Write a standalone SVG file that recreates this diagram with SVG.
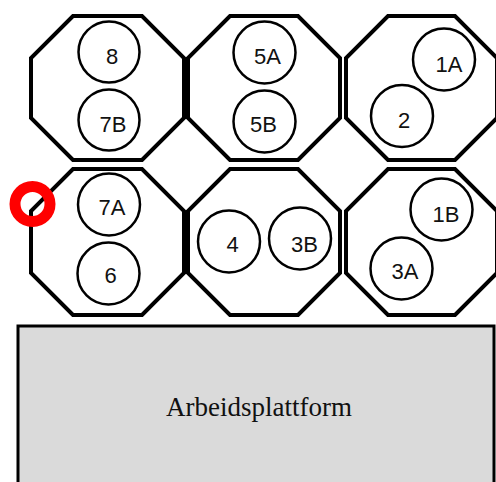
<svg xmlns="http://www.w3.org/2000/svg" width="496" height="482" viewBox="0 0 496 482">
<style>
.oct{fill:#fff;stroke:#000;stroke-width:4;stroke-linejoin:miter}
.c{fill:#fff;stroke:#000;stroke-width:2.5}
.t{font-family:"Liberation Sans",Arial,sans-serif;font-size:22px;fill:#111;text-anchor:middle}
.plat{fill:#dadada;stroke:#000;stroke-width:3}
.pt{font-family:"Liberation Serif","Times New Roman",serif;font-size:27px;fill:#111;text-anchor:middle}
</style>
<rect width="496" height="482" fill="#fff"/>
<g id="platform">
<rect class="plat" x="18" y="326" width="476" height="170"/>
<text class="pt" x="259" y="416">Arbeidsplattform</text>
</g>
<g id="octagon-8-7B">
<polygon class="oct" points="73,16 142,16 184,58 184,118 142,160 73,160 31,118 31,58"/>
<circle class="c" cx="109" cy="52" r="30.5"/>
<text class="t" x="112" y="64">8</text>
<circle class="c" cx="109" cy="120" r="30.5"/>
<text class="t" x="113" y="132">7B</text>
</g>
<g id="octagon-5A-5B">
<polygon class="oct" points="230,16 298,16 340,58 340,118 298,160 230,160 188,118 188,58"/>
<circle class="c" cx="264.5" cy="52.5" r="31"/>
<text class="t" x="267.5" y="64">5A</text>
<circle class="c" cx="264.5" cy="121.5" r="31"/>
<text class="t" x="263.5" y="132">5B</text>
</g>
<g id="octagon-1A-2">
<polygon class="oct" points="388,16 455,16 497,58 497,118 455,160 388,160 346,118 346,58"/>
<circle class="c" cx="444" cy="59.5" r="31"/>
<text class="t" x="449" y="72">1A</text>
<circle class="c" cx="402" cy="116" r="31"/>
<text class="t" x="404" y="128">2</text>
</g>
<g id="octagon-7A-6">
<polygon class="oct" points="73,169 142,169 184,211 184,273 142,315 73,315 31,273 31,211"/>
<circle class="c" cx="109" cy="204.5" r="31"/>
<text class="t" x="112" y="215">7A</text>
<circle class="c" cx="108.5" cy="273.5" r="31"/>
<text class="t" x="110.5" y="283">6</text>
</g>
<g id="octagon-4-3B">
<polygon class="oct" points="230,169 298,169 340,211 340,273 298,315 230,315 188,273 188,211"/>
<circle class="c" cx="229" cy="241.5" r="31"/>
<text class="t" x="232.5" y="252">4</text>
<circle class="c" cx="300" cy="238.5" r="31"/>
<text class="t" x="304.5" y="252">3B</text>
</g>
<g id="octagon-1B-3A">
<polygon class="oct" points="388,169 455,169 497,211 497,273 455,315 388,315 346,273 346,211"/>
<circle class="c" cx="441.5" cy="209.5" r="31"/>
<text class="t" x="446" y="222">1B</text>
<circle class="c" cx="401.5" cy="268.5" r="31"/>
<text class="t" x="405" y="279">3A</text>
</g>
<g id="marker">
<circle cx="32.5" cy="204" r="17.5" fill="none" stroke="#ff0000" stroke-width="11"/>
</g>
<g id="connectors"/>
</svg>
